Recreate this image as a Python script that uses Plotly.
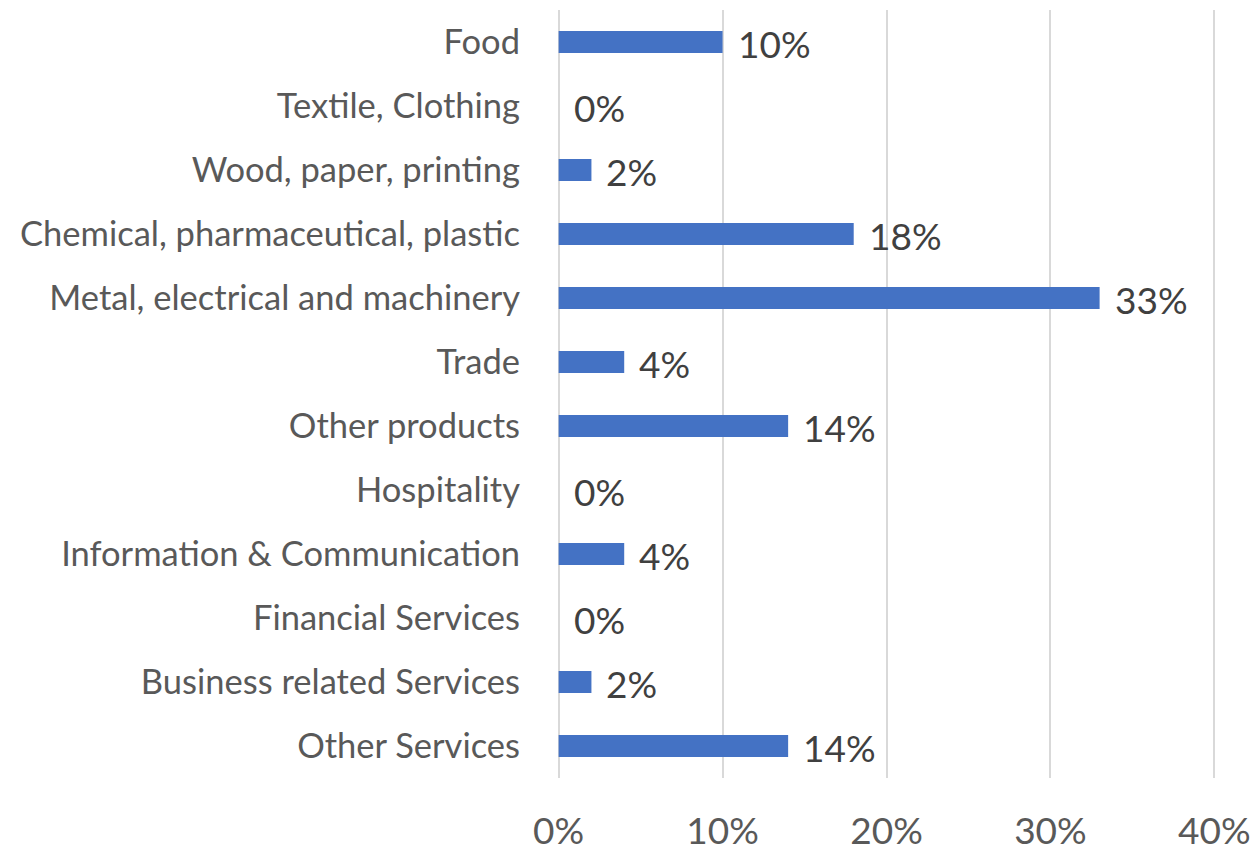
import plotly.graph_objects as go

# Sectors, top to bottom
sectors = [
    "Food",
    "Textile, Clothing",
    "Wood, paper, printing",
    "Chemical, pharmaceutical, plastic",
    "Metal, electrical and machinery",
    "Trade",
    "Other products",
    "Hospitality",
    "Information & Communication",
    "Financial Services",
    "Business related Services",
    "Other Services",
]
# Share of firms per sector (percent)
shares = [10, 0, 2, 18, 33, 4, 14, 0, 4, 0, 2, 14]

x_ticks = [0, 10, 20, 30, 40]
x_tick_labels = ["0%", "10%", "20%", "30%", "40%"]

FONT = "Lato"

fig = go.Figure()
fig.add_trace(go.Bar(
    y=sectors,
    x=shares,
    orientation="h",
    marker=dict(color="#4472C4", line=dict(width=0)),
    hoverinfo="skip",
))

# Value labels to the right of each bar
for name, v in zip(sectors, shares):
    fig.add_annotation(
        x=v, y=name, text=f"{v}%", showarrow=False,
        xanchor="left", yanchor="middle", xshift=13, yshift=-1,
        font=dict(family=FONT, size=37, color="#404040"),
    )

fig.update_layout(
    width=1256, height=851,
    margin=dict(l=557, r=40, t=10, b=73),
    paper_bgcolor="white", plot_bgcolor="white",
    showlegend=False,
    bargap=0.66,
)
fig.update_xaxes(
    range=[-0.1, 40.1], tickvals=x_ticks, ticktext=x_tick_labels,
    showgrid=True, gridcolor="#D9D9D9", gridwidth=2,
    zeroline=False, showline=False, ticks="",
    ticklabelstandoff=28, automargin=False,
    tickfont=dict(family=FONT, size=37, color="#595959"),
)
fig.update_yaxes(
    categoryorder="array", categoryarray=sectors, autorange="reversed",
    showgrid=False, zeroline=False, showline=False, ticks="",
    ticklabelstandoff=36, automargin=False,
    tickfont=dict(family=FONT, size=34.5, color="#595959"),
)

fig.write_html("out.html")
